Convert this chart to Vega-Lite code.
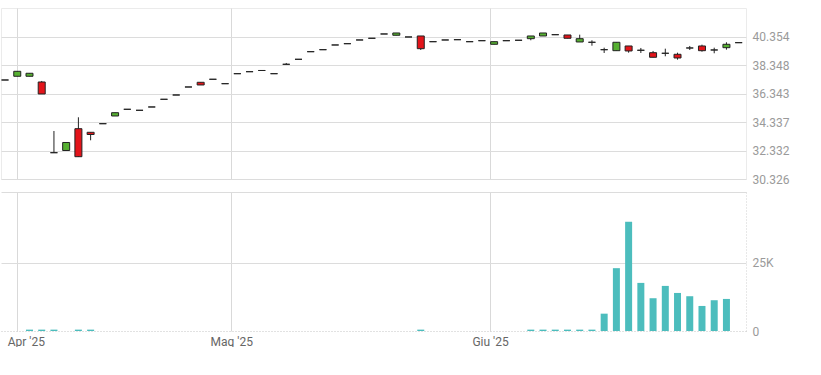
{
  "$schema": "https://vega.github.io/schema/vega-lite/v6.json",
  "background": "white",
  "padding": {"left": 0, "top": 7, "right": 0, "bottom": 0},
  "config": {"view": {"stroke": null}, "font": "Roboto", "concat": {"spacing": 6}},
  "data": {"values": [
    {"i": 0, "date": "2025-03-31", "open": 37317, "high": 37317, "low": 37317, "close": 37317, "volume": 0},
    {"i": 1, "date": "2025-04-01", "open": 37579, "high": 37930, "low": 37579, "close": 37930, "volume": 0},
    {"i": 2, "date": "2025-04-02", "open": 37579, "high": 37791, "low": 37579, "close": 37791, "volume": 500},
    {"i": 3, "date": "2025-04-03", "open": 37176, "high": 37247, "low": 36329, "close": 36329, "volume": 500},
    {"i": 4, "date": "2025-04-04", "open": 32183, "high": 33716, "low": 32183, "close": 32183, "volume": 500},
    {"i": 5, "date": "2025-04-07", "open": 32339, "high": 32904, "low": 32339, "close": 32904, "volume": 0},
    {"i": 6, "date": "2025-04-08", "open": 33878, "high": 34683, "low": 31880, "close": 31901, "volume": 500},
    {"i": 7, "date": "2025-04-09", "open": 33624, "high": 33624, "low": 33059, "close": 33468, "volume": 500},
    {"i": 8, "date": "2025-04-10", "open": 34231, "high": 34231, "low": 34231, "close": 34231, "volume": 0},
    {"i": 9, "date": "2025-04-11", "open": 34775, "high": 35008, "low": 34775, "close": 35008, "volume": 0},
    {"i": 10, "date": "2025-04-14", "open": 35248, "high": 35248, "low": 35248, "close": 35248, "volume": 0},
    {"i": 11, "date": "2025-04-15", "open": 35178, "high": 35178, "low": 35178, "close": 35178, "volume": 0},
    {"i": 12, "date": "2025-04-16", "open": 35411, "high": 35411, "low": 35411, "close": 35411, "volume": 0},
    {"i": 13, "date": "2025-04-17", "open": 35954, "high": 35954, "low": 35954, "close": 35954, "volume": 0},
    {"i": 14, "date": "2025-04-23", "open": 36258, "high": 36258, "low": 36258, "close": 36258, "volume": 0},
    {"i": 15, "date": "2025-04-24", "open": 36823, "high": 36823, "low": 36823, "close": 36823, "volume": 0},
    {"i": 16, "date": "2025-04-28", "open": 37155, "high": 37155, "low": 36965, "close": 36965, "volume": 0},
    {"i": 17, "date": "2025-04-29", "open": 37367, "high": 37367, "low": 37367, "close": 37367, "volume": 0},
    {"i": 18, "date": "2025-04-30", "open": 37056, "high": 37056, "low": 37056, "close": 37056, "volume": 0},
    {"i": 19, "date": "2025-05-02", "open": 37762, "high": 37762, "low": 37762, "close": 37762, "volume": 0},
    {"i": 20, "date": "2025-05-05", "open": 37903, "high": 37903, "low": 37903, "close": 37903, "volume": 0},
    {"i": 21, "date": "2025-05-06", "open": 37988, "high": 37988, "low": 37988, "close": 37988, "volume": 0},
    {"i": 22, "date": "2025-05-07", "open": 37762, "high": 37762, "low": 37762, "close": 37762, "volume": 0},
    {"i": 23, "date": "2025-05-08", "open": 38426, "high": 38518, "low": 38426, "close": 38426, "volume": 0},
    {"i": 24, "date": "2025-05-09", "open": 38779, "high": 38779, "low": 38779, "close": 38779, "volume": 0},
    {"i": 25, "date": "2025-05-12", "open": 39316, "high": 39316, "low": 39316, "close": 39316, "volume": 0},
    {"i": 26, "date": "2025-05-13", "open": 39457, "high": 39457, "low": 39457, "close": 39457, "volume": 0},
    {"i": 27, "date": "2025-05-14", "open": 39789, "high": 39789, "low": 39789, "close": 39789, "volume": 0},
    {"i": 28, "date": "2025-05-15", "open": 39881, "high": 39881, "low": 39881, "close": 39881, "volume": 0},
    {"i": 29, "date": "2025-05-16", "open": 40142, "high": 40142, "low": 40142, "close": 40142, "volume": 0},
    {"i": 30, "date": "2025-05-19", "open": 40262, "high": 40262, "low": 40262, "close": 40262, "volume": 0},
    {"i": 31, "date": "2025-05-20", "open": 40566, "high": 40566, "low": 40566, "close": 40566, "volume": 0},
    {"i": 32, "date": "2025-05-21", "open": 40474, "high": 40636, "low": 40474, "close": 40636, "volume": 0},
    {"i": 33, "date": "2025-05-22", "open": 40354, "high": 40354, "low": 40354, "close": 40354, "volume": 0},
    {"i": 34, "date": "2025-05-23", "open": 40425, "high": 40425, "low": 39436, "close": 39528, "volume": 500},
    {"i": 35, "date": "2025-05-26", "open": 40022, "high": 40022, "low": 40022, "close": 40022, "volume": 0},
    {"i": 36, "date": "2025-05-27", "open": 40142, "high": 40142, "low": 40142, "close": 40142, "volume": 0},
    {"i": 37, "date": "2025-05-28", "open": 40163, "high": 40163, "low": 40163, "close": 40163, "volume": 0},
    {"i": 38, "date": "2025-05-29", "open": 40022, "high": 40022, "low": 40022, "close": 40022, "volume": 0},
    {"i": 39, "date": "2025-05-30", "open": 40093, "high": 40093, "low": 40093, "close": 40093, "volume": 0},
    {"i": 40, "date": "2025-06-02", "open": 39838, "high": 40022, "low": 39838, "close": 40022, "volume": 0},
    {"i": 41, "date": "2025-06-03", "open": 40093, "high": 40093, "low": 40093, "close": 40093, "volume": 0},
    {"i": 42, "date": "2025-06-04", "open": 40121, "high": 40121, "low": 40121, "close": 40121, "volume": 0},
    {"i": 43, "date": "2025-06-05", "open": 40234, "high": 40425, "low": 40121, "close": 40425, "volume": 500},
    {"i": 44, "date": "2025-06-06", "open": 40425, "high": 40636, "low": 40425, "close": 40636, "volume": 500},
    {"i": 45, "date": "2025-06-09", "open": 40516, "high": 40516, "low": 40516, "close": 40516, "volume": 500},
    {"i": 46, "date": "2025-06-10", "open": 40495, "high": 40495, "low": 40262, "close": 40262, "volume": 500},
    {"i": 47, "date": "2025-06-11", "open": 40001, "high": 40516, "low": 40001, "close": 40234, "volume": 500},
    {"i": 48, "date": "2025-06-12", "open": 39980, "high": 40121, "low": 39740, "close": 39980, "volume": 500},
    {"i": 49, "date": "2025-06-13", "open": 39457, "high": 39598, "low": 39224, "close": 39457, "volume": 6330},
    {"i": 50, "date": "2025-06-16", "open": 39387, "high": 39980, "low": 39387, "close": 39980, "volume": 22950},
    {"i": 51, "date": "2025-06-17", "open": 39719, "high": 39719, "low": 39245, "close": 39365, "volume": 39900},
    {"i": 52, "date": "2025-06-18", "open": 39415, "high": 39577, "low": 39224, "close": 39415, "volume": 17570},
    {"i": 53, "date": "2025-06-19", "open": 39245, "high": 39365, "low": 38920, "close": 38920, "volume": 11970},
    {"i": 54, "date": "2025-06-20", "open": 39203, "high": 39528, "low": 38991, "close": 39203, "volume": 16470},
    {"i": 55, "date": "2025-06-23", "open": 39132, "high": 39245, "low": 38751, "close": 38871, "volume": 13900},
    {"i": 56, "date": "2025-06-24", "open": 39577, "high": 39719, "low": 39436, "close": 39577, "volume": 12700},
    {"i": 57, "date": "2025-06-25", "open": 39719, "high": 39810, "low": 39316, "close": 39387, "volume": 9150},
    {"i": 58, "date": "2025-06-26", "open": 39436, "high": 39598, "low": 39203, "close": 39436, "volume": 11240},
    {"i": 59, "date": "2025-06-27", "open": 39598, "high": 39980, "low": 39457, "close": 39838, "volume": 11710},
    {"i": 60, "date": "2025-06-30", "open": 39952, "high": 39952, "low": 39952, "close": 39952, "volume": 0}
  ]},
  "vconcat": [
    {
      "width": 745,
      "height": 171,
      "view": {"stroke": "#ebebeb"},
      "encoding": {
        "x": {
          "field": "i", "type": "quantitative",
          "scale": {"domain": [-0.33, 60.6], "nice": false, "zero": false, "padding": 0},
          "axis": {"values": [1, 18.5, 39.667], "grid": true, "gridColor": "#d9d9d9", "labels": false, "ticks": false, "domain": false, "title": null}
        }
      },
      "layer": [
        {
          "mark": {"type": "rule", "color": "#222222", "strokeWidth": 1},
          "encoding": {
            "y": {
              "field": "low", "type": "quantitative",
              "scale": {"domain": [30326, 42400], "nice": false, "zero": false},
              "axis": {
                "orient": "right", "title": null,
                "values": [30326, 32331.6, 34337.2, 36342.8, 38348.4, 40354],
                "labelExpr": "replace(format(datum.value, ',.0f'), ',', '.')",
                "grid": true, "gridColor": "#dcdcdc", "domain": false, "ticks": false,
                "labelColor": "#9a9a9a", "labelFontSize": 12, "labelPadding": 6
              }
            },
            "y2": {"field": "high"}
          }
        },
        {
          "mark": {"type": "bar", "width": 7, "stroke": "#222222", "strokeWidth": 1},
          "encoding": {
            "y": {
              "field": "open", "type": "quantitative",
              "axis": {
                "orient": "right", "title": null,
                "values": [30326, 32331.6, 34337.2, 36342.8, 38348.4, 40354],
                "labelExpr": "replace(format(datum.value, ',.0f'), ',', '.')",
                "grid": true, "gridColor": "#dcdcdc", "domain": false, "ticks": false,
                "labelColor": "#9a9a9a", "labelFontSize": 12, "labelPadding": 6
              }
            },
            "y2": {"field": "close"},
            "fill": {"condition": {"test": "datum.close > datum.open", "value": "#56b031"}, "value": "#e3141a"}
          }
        }
      ]
    },
    {
      "width": 745,
      "height": 139,
      "mark": {"type": "bar", "width": 7, "color": "#4cbdbd"},
      "encoding": {
        "x": {
          "field": "i", "type": "quantitative",
          "scale": {"domain": [-0.33, 60.6], "nice": false, "zero": false, "padding": 0},
          "axis": {
            "values": [1, 18.5, 39.667], "grid": true, "gridColor": "#d9d9d9", "title": null,
            "labelExpr": "datum.value < 5 ? \"Apr '25\" : datum.value < 30 ? \"Mag '25\" : \"Giu '25\"",
            "labelAlign": {"condition": {"test": "datum.value < 5", "value": "left"}, "value": "center"},
            "labelOffset": {"condition": {"test": "datum.value < 5", "value": -10}, "value": 0},
            "ticks": false, "domain": true, "domainDash": [1, 2], "domainColor": "#c4c4c4",
            "labelColor": "#666666", "labelFontSize": 12, "labelPadding": 5
          }
        },
        "y": {
          "field": "volume", "type": "quantitative",
          "scale": {"domain": [0, 50770], "nice": false},
          "axis": {
            "orient": "right", "title": null,
            "values": [0, 25000, 50770],
            "labelExpr": "datum.value == 0 ? '0' : datum.value == 25000 ? '25K' : ''",
            "grid": true,
            "gridColor": {"condition": {"test": "datum.value == 0", "value": "transparent"}, "value": "#dcdcdc"},
            "domain": true, "domainDash": [1, 2], "domainColor": "#d0d0d0", "ticks": false,
            "labelColor": "#9a9a9a", "labelFontSize": 12, "labelPadding": 6
          }
        }
      }
    }
  ]
}
